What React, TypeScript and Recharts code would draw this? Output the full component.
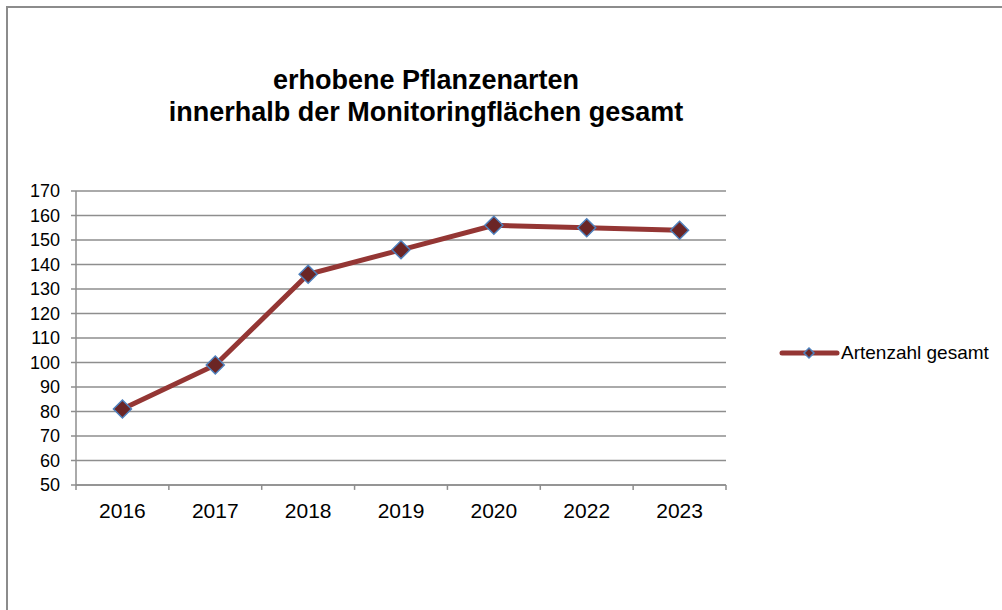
import React from 'react';
import { LineChart, Line, XAxis, YAxis, CartesianGrid, ReferenceLine } from 'recharts';

const years = ['2016', '2017', '2018', '2019', '2020', '2022', '2023'];
const artenzahl = [81, 99, 136, 146, 156, 155, 154];
const yTicks = [50, 60, 70, 80, 90, 100, 110, 120, 130, 140, 150, 160, 170];
const boundaryTicks = [0, 1, 2, 3, 4, 5, 6, 7];
const titleLines = ['erhobene Pflanzenarten', 'innerhalb der Monitoringflächen gesamt'];
const seriesName = 'Artenzahl gesamt';

const data = years.map((y, i) => ({ year: y, value: artenzahl[i], pos: i + 0.5 }));

const FONT = '"Liberation Sans", Arial, sans-serif';
const GRID = '#8e8e8e';
const LINE = '#943634';
const MARK_FILL = '#6b2525';
const MARK_STROKE = '#4f81bd';

const Diamond = (props: any) => {
  const { cx, cy } = props;
  if (cx == null || cy == null) return null;
  const r = 9;
  return (
    <polygon
      key={`d-${cx}`}
      points={`${cx},${cy - r} ${cx + r},${cy} ${cx},${cy + r} ${cx - r},${cy}`}
      fill={MARK_FILL}
      stroke={MARK_STROKE}
      strokeWidth={1.5}
    />
  );
};

export default function App() {
  return (
    <div
      style={{
        position: 'absolute',
        left: 0,
        top: 0,
        width: 1002,
        height: 610,
        overflow: 'hidden',
        background: '#fff',
        fontFamily: FONT,
      }}
    >
      <div
        style={{
          position: 'absolute',
          left: 6,
          top: 6,
          width: 1100,
          height: 700,
          border: '2px solid #8c8c8c',
          boxSizing: 'border-box',
        }}
      />
      <div
        style={{
          position: 'absolute',
          left: 0,
          top: 64,
          width: 852,
          textAlign: 'center',
          fontWeight: 'bold',
          fontSize: 27,
          lineHeight: '32px',
          color: '#000',
        }}
      >
        {titleLines.map((t) => (
          <div key={t}>{t}</div>
        ))}
      </div>
      <div style={{ position: 'absolute', left: 0, top: 0 }}>
        <LineChart
          width={1002}
          height={610}
          data={data}
          margin={{ top: 191, right: 276, bottom: 95, left: 0 }}
        >
          <CartesianGrid vertical={false} stroke={GRID} strokeWidth={1.5} />
          <XAxis
            dataKey="year"
            scale="band"
            tickLine={false}
            tickSize={0}
            tickMargin={18}
            axisLine={{ stroke: GRID, strokeWidth: 1.5 }}
            tick={{ fill: '#000', fontSize: 21, fontFamily: FONT }}
            height={30}
            interval={0}
          />
          <XAxis
            xAxisId="bounds"
            dataKey="pos"
            type="number"
            domain={[0, 7]}
            ticks={boundaryTicks}
            hide
            allowDataOverflow
          />
          <YAxis
            domain={[50, 170]}
            ticks={yTicks}
            width={76}
            tickSize={5}
            tickMargin={11}
            tickLine={{ stroke: GRID, strokeWidth: 1.5 }}
            axisLine={{ stroke: GRID, strokeWidth: 1.5 }}
            tick={{ fill: '#000', fontSize: 18, fontFamily: FONT }}
            interval={0}
            allowDataOverflow
          />
          {boundaryTicks.map((b) => (
            <ReferenceLine
              key={`b-${b}`}
              xAxisId="bounds"
              segment={[
                { x: b, y: 50 },
                { x: b, y: 48 },
              ]}
              stroke={GRID}
              strokeWidth={1.5}
              ifOverflow="visible"
            />
          ))}
          <Line
            type="linear"
            dataKey="value"
            name={seriesName}
            stroke={LINE}
            strokeWidth={5}
            dot={<Diamond />}
            activeDot={false}
            isAnimationActive={false}
          />
        </LineChart>
      </div>
      <div
        style={{
          position: 'absolute',
          left: 778,
          top: 340,
          display: 'flex',
          alignItems: 'center',
          height: 26,
        }}
      >
        <svg width={62} height={26} style={{ display: 'block' }}>
          <line x1={4} y1={13} x2={59} y2={13} stroke={LINE} strokeWidth={5} strokeLinecap="round" />
          <polygon points="31,8 36,13 31,18 26,13" fill={MARK_FILL} stroke={MARK_STROKE} strokeWidth={1.5} />
        </svg>
        <span style={{ fontSize: 19, color: '#000', marginLeft: 1, whiteSpace: 'nowrap' }}>{seriesName}</span>
      </div>
    </div>
  );
}
